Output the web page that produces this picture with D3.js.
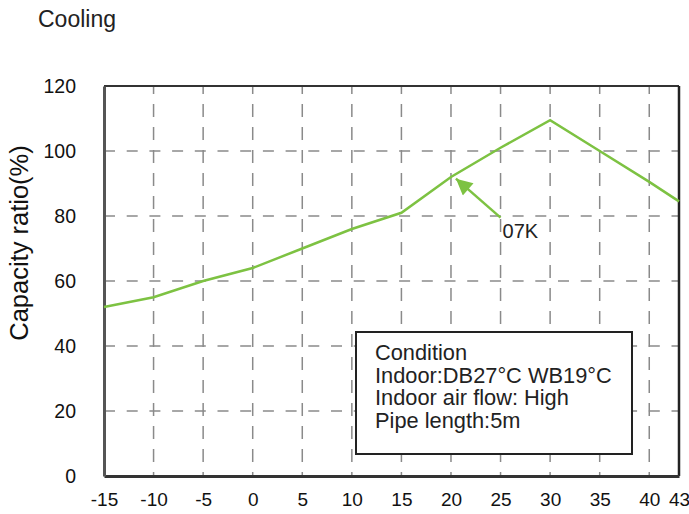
<!DOCTYPE html>
<html><head><meta charset="utf-8">
<script src="https://cdn.jsdelivr.net/npm/d3@7"></script>
<style>body{margin:0;background:#fff}svg{display:block;font-family:"Liberation Sans",Arial,sans-serif}</style>
</head><body>
<svg id="c" width="689" height="514"></svg>
<script>
const temps = [-15,-10,-5,0,5,10,15,20,25,30,35,40,43];
const capacity = [52,55,60,64,70,76,81,92,101,109.5,100,90.5,84.5];
const xTicks = [-15,-10,-5,0,5,10,15,20,25,30,35,40,43];
const yTicks = [0,20,40,60,80,100,120];
const conditionLines = ["Condition","Indoor:DB27°C WB19°C","Indoor air flow: High","Pipe length:5m"];

const svg = d3.select("#c");
const L=104, R=679, T=86, B=476;
const x = d3.scaleLinear().domain([-15,43]).range([L,R]);
const y = d3.scaleLinear().domain([0,120]).range([B,T]);

svg.append("text").attr("x",38).attr("y",27).attr("font-size",23).attr("fill","#222").text("Cooling");

// gridlines
const g = svg.append("g");
g.selectAll(".vg").data(xTicks.filter(d=>d>-15&&d<43)).join("line")
 .attr("x1",d=>x(d)).attr("x2",d=>x(d)).attr("y1",T).attr("y2",B)
 .attr("stroke","#8a8a8a").attr("stroke-width",1.5).attr("stroke-dasharray","13,10").attr("stroke-dashoffset",5);
g.selectAll(".hg").data(yTicks.filter(d=>d>0&&d<120)).join("line")
 .attr("x1",L).attr("x2",R).attr("y1",d=>y(d)).attr("y2",d=>y(d))
 .attr("stroke","#8a8a8a").attr("stroke-width",1.5).attr("stroke-dasharray","11,11.7");

// frame
svg.append("line").attr("x1",L).attr("x2",R).attr("y1",T).attr("y2",T).attr("stroke","#333").attr("stroke-width",2);
svg.append("line").attr("x1",R).attr("x2",R).attr("y1",T).attr("y2",B).attr("stroke","#222").attr("stroke-width",2.5);

// axes
const xa = svg.append("g").attr("transform",`translate(0,${B})`)
 .call(d3.axisBottom(x).tickValues(xTicks).tickSize(0).tickPadding(17).tickFormat(d=>String(d)));
xa.select(".domain").attr("stroke","#333").attr("stroke-width",3);
xa.selectAll("text").attr("font-size",19).attr("fill","#111").attr("font-family","Liberation Sans, Arial, sans-serif");
const ya = svg.append("g").attr("transform",`translate(${L},0)`)
 .call(d3.axisLeft(y).tickValues(yTicks).tickSize(0).tickPadding(28).tickFormat(d=>String(d)));
ya.select(".domain").attr("stroke","#555").attr("stroke-width",3);
ya.selectAll("text").attr("font-size",19.5).attr("fill","#111").attr("font-family","Liberation Sans, Arial, sans-serif");

svg.append("text").attr("transform",`translate(28,243) rotate(-90)`)
 .attr("text-anchor","middle").attr("font-size",25.5).attr("fill","#111").text("Capacity ratio(%)");

// legend box
const bx=356, by=332, bw=276, bh=122;
svg.append("rect").attr("x",bx).attr("y",by).attr("width",bw).attr("height",bh)
 .attr("fill","#fff").attr("stroke","#222").attr("stroke-width",2);
svg.selectAll(".cl").data(conditionLines).join("text")
 .attr("x",bx+19).attr("y",(d,i)=>by+28+i*22.7).attr("font-size",21.8).attr("fill","#222").text(d=>d);

// line
const line = d3.line().x((d,i)=>x(temps[i])).y(d=>y(d));
svg.append("path").datum(capacity).attr("d",line).attr("fill","none")
 .attr("stroke","#7dc242").attr("stroke-width",2.5);

// arrow annotation
const defs = svg.append("defs");
defs.append("marker").attr("id","ah").attr("viewBox","0 0 10 10").attr("refX",10).attr("refY",5)
 .attr("markerWidth",7).attr("markerHeight",6.5).attr("orient","auto")
 .append("path").attr("d","M0,0 L10,5 L0,10 z").attr("fill","#7dc242");
svg.append("line").attr("x1",x(25)).attr("y1",y(79.5)).attr("x2",x(20.5)).attr("y2",y(91.5))
 .attr("stroke","#7dc242").attr("stroke-width",2.5).attr("marker-end","url(#ah)");
svg.append("text").attr("x",x(25.2)).attr("y",y(73.3)).attr("font-size",20).attr("fill","#222").text("07K");
</script>
</body></html>
